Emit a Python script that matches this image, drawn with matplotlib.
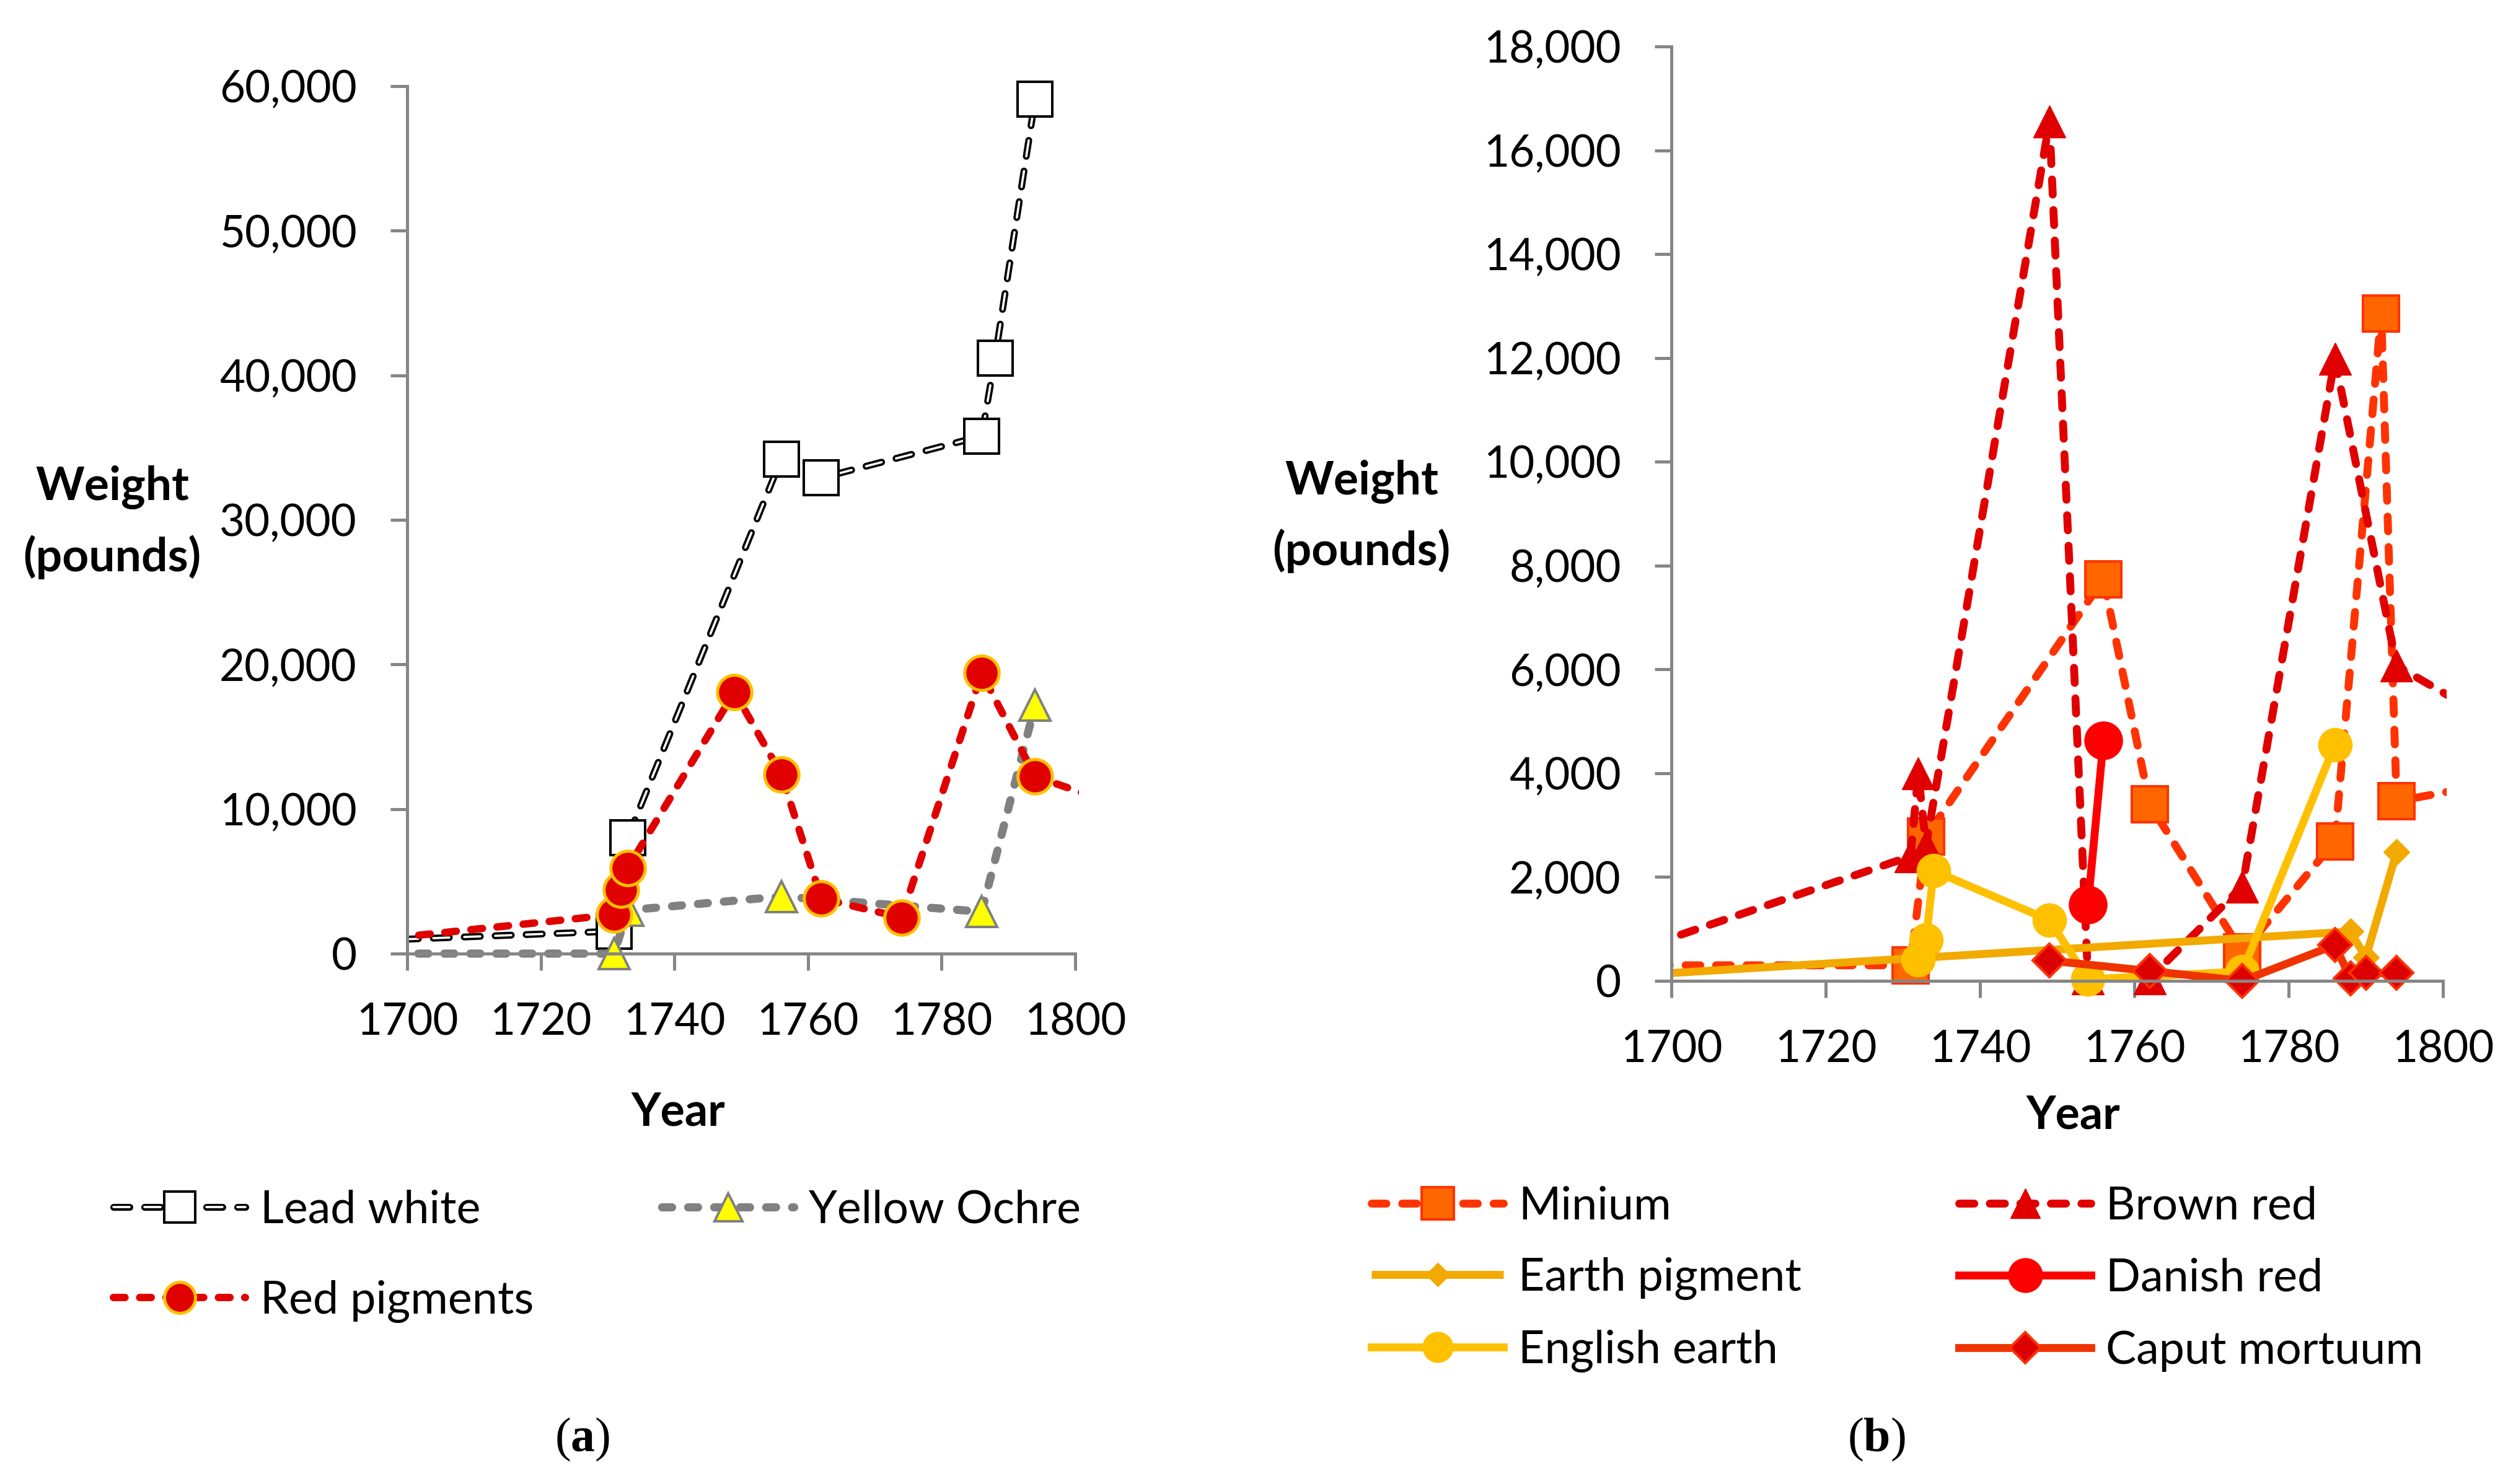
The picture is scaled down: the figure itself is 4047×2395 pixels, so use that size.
import matplotlib
matplotlib.use('Agg')
import matplotlib.pyplot as plt
from matplotlib.ticker import FuncFormatter, MultipleLocator
from matplotlib.patches import Rectangle
from matplotlib.legend_handler import HandlerTuple
import matplotlib.patheffects as pe

plt.rcParams['font.family'] = ['Lato', 'DejaVu Sans']
plt.rcParams['lines.scale_dashes'] = False
plt.rcParams['mathtext.fontset'] = 'custom'
plt.rcParams['mathtext.rm'] = 'Liberation Serif'
plt.rcParams['mathtext.bf'] = 'Liberation Serif:bold'

# ---------------- data (a) ----------------
lead_years = [1690, 1731, 1733, 1756, 1762, 1786, 1788, 1794]
lead_vals = [820, 1550, 8000, 34200, 32900, 35800, 41200, 59100]
ochre_years = [1690, 1731, 1733, 1756, 1786, 1794]
ochre_vals = [0, 0, 3000, 3950, 2900, 17200]
red_years = [1690, 1731, 1732, 1733, 1749, 1756, 1762, 1774, 1786, 1794, 1810]
red_vals = [700, 2700, 4400, 5900, 18100, 12400, 3800, 2500, 19400, 12250, 9700]

# ---------------- data (b) ----------------
minium_years = [1690, 1731, 1733, 1756, 1762, 1774, 1786, 1792, 1794, 1810]
minium_vals = [300, 300, 2780, 7740, 3400, 550, 2690, 12860, 3460, 3900]
brown_years = [1690, 1731, 1732, 1733, 1749, 1754, 1762, 1774, 1786, 1794, 1810]
brown_vals = [320, 2400, 4000, 2600, 16550, 50, 50, 1820, 11980, 6070, 4700]
earth_years = [1690, 1788, 1790, 1794]
earth_vals = [60, 950, 450, 2480]
danish_years = [1754, 1756]
danish_vals = [1470, 4630]
english_years = [1732, 1733, 1734, 1749, 1754, 1774, 1786]
english_vals = [400, 790, 2120, 1170, 30, 180, 4550]
caput_years = [1749, 1762, 1774, 1786, 1788, 1790, 1794]
caput_vals = [390, 190, 0, 690, 50, 150, 150]

labels_a = ['Lead white', 'Yellow Ochre', 'Red pigments']
labels_b = ['Minium', 'Brown red', 'Earth pigment', 'Danish red', 'English earth', 'Caput mortuum']

W, H = 4048, 2395
FS = 51
LFS = 53
fig = plt.figure(figsize=(W / 100, H / 100), dpi=100)

axA = fig.add_axes([657 / W, 1 - 1539 / H, 1078 / W, 1400 / H])
axB = fig.add_axes([2697 / W, 1 - 1583 / H, 1245 / W, 1508 / H])

AXC = '#868686'
LWB = 9.2


def style_axes(ax, ymax, ystep):
    ax.set_xlim(1700, 1800)
    ax.set_ylim(0, ymax)
    ax.xaxis.set_major_locator(MultipleLocator(20))
    ax.yaxis.set_major_locator(MultipleLocator(ystep))
    ax.yaxis.set_major_formatter(FuncFormatter(lambda v, p: f'{int(round(v)):,}'))
    for s in ['top', 'right']:
        ax.spines[s].set_visible(False)
    for s in ['left', 'bottom']:
        ax.spines[s].set_color(AXC)
        ax.spines[s].set_linewidth(3.6)
    ax.tick_params(axis='both', direction='out', length=19.5, width=3.6, color=AXC,
                   labelsize=FS, labelcolor='black')
    ax.tick_params(axis='x', pad=37)
    ax.tick_params(axis='y', pad=39)
    ax.set_facecolor('none')


def clip(ax, artists, xext):
    for a in artists:
        r = Rectangle((0, -0.2), 1 + xext, 1.4, transform=ax.transAxes)
        a.set_clip_path(r)


style_axes(axA, 60000, 10000)
style_axes(axB, 18000, 2000)

# ---------------- panel (a) ----------------
lw_line, = axA.plot(lead_years, lead_vals, color='white', lw=2.6, dashes=(18.7, 17.3),
                    dash_capstyle='round', solid_capstyle='round',
                    path_effects=[pe.Stroke(linewidth=8.0, foreground='black'), pe.Normal()],
                    zorder=2.0)
lw_mk, = axA.plot(lead_years, lead_vals, ls='none', marker='s', ms=40, mfc='white',
                  mec='black', mew=2.9, zorder=2.1)
och, = axA.plot(ochre_years, ochre_vals, color='#808080', lw=9.5, dashes=(11.5, 18.7),
                dash_capstyle='round', marker='^', ms=36, mfc='#FFFF00', mec='#808080',
                mew=2.9, zorder=2.2)
red, = axA.plot(red_years, red_vals, color='#E00000', lw=8.6, dashes=(13.5, 17.0),
                dash_capstyle='round', marker='o', ms=40, mfc='#E00000', mec='#FFC000',
                mew=3.6, zorder=2.3)
clip(axA, [lw_line, lw_mk, och, red], 0.0055)

# ---------------- panel (b) ----------------
mini, = axB.plot(minium_years, minium_vals, color='#FF3300', lw=LWB, dashes=(17.0, 18.4),
                 dash_capstyle='round', marker='s', ms=42, mfc='#FF6600', mec='#FF3300',
                 mew=2.9, zorder=2.0)
brown, = axB.plot(brown_years, brown_vals, color='#E00000', lw=LWB, dashes=(17.5, 18.0),
                  dash_capstyle='round', marker='^', ms=38, mfc='#E00000', mec='#E00000',
                  mew=1, zorder=2.1)
earth, = axB.plot(earth_years, earth_vals, color='#F2A900', lw=LWB, solid_capstyle='butt',
                  marker='D', ms=21, mfc='#F2A900', mec='#F2A900', mew=1, zorder=2.2)
danish, = axB.plot(danish_years, danish_vals, color='#FF0000', lw=LWB, marker='o', ms=44,
                   mfc='#FF0000', mec='#FF0000', mew=1, zorder=2.3)
eng, = axB.plot(english_years, english_vals, color='#FFC000', lw=LWB, marker='o', ms=39,
                mfc='#FFC000', mec='#FFC000', mew=1, zorder=2.4)
caput, = axB.plot(caput_years, caput_vals, color='#EE3300', lw=LWB, marker='D', ms=28,
                  mfc='#DD0000', mec='#FF3300', mew=2.9, zorder=2.5)
clip(axB, [mini, brown, earth, danish, eng, caput], 0.005)

# ---------------- axis labels ----------------
for ax, (lx, ly), (xx, xy) in [(axA, (-0.4416, 0.497), (0.406, -0.183)),
                                (axB, (-0.4016, 0.497), (0.521, -0.144))]:
    ax.set_ylabel('Weight\n(pounds)', rotation=0, fontsize=54, fontweight='bold',
                  ha='center', va='center', linespacing=1.7)
    ax.yaxis.set_label_coords(lx, ly)
    ax.set_xlabel('Year', fontsize=53, fontweight='bold', ha='center', va='center')
    ax.xaxis.set_label_coords(xx, xy)


# ---------------- legends ----------------
def add_entry(handle, label, x, y):
    leg = fig.legend([handle], [label], loc='center left',
                     bbox_to_anchor=(x / W, 1 - y / H), frameon=False, borderpad=0,
                     borderaxespad=0, handlelength=2.9, handletextpad=0.32,
                     fontsize=LFS, markerscale=0.9,
                     handler_map={tuple: HandlerTuple(ndivide=1)})
    return leg


add_entry((lw_line, lw_mk), labels_a[0], 183, 1953)
add_entry(och, labels_a[1], 1068, 1953)
add_entry(red, labels_a[2], 183, 2100)

add_entry(mini, labels_b[0], 2213, 1947)
add_entry(brown, labels_b[1], 3161, 1947)
add_entry(earth, labels_b[2], 2213, 2063)
add_entry(danish, labels_b[3], 3161, 2063)
add_entry(eng, labels_b[4], 2213, 2180)
add_entry(caput, labels_b[5], 3161, 2180)

# ---------------- captions ----------------
fig.text(940 / W, 1 - 2323 / H, r'($\mathbf{a}$)', ha='center', va='center',
         fontsize=56, family='Liberation Serif')
fig.text(3028 / W, 1 - 2323 / H, r'($\mathbf{b}$)', ha='center', va='center',
         fontsize=56, family='Liberation Serif')

fig.savefig('out.png', dpi=100, facecolor='white')
